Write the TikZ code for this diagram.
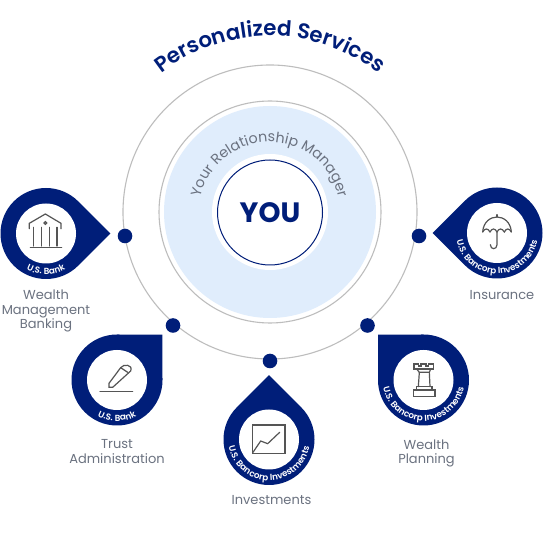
\documentclass[tikz,border=0pt]{standalone}
\usepackage{fontspec}
\setmainfont{Poppins}
\newfontfamily\semif{Poppins SemiBold}
\usetikzlibrary{decorations.text,calc}
\definecolor{navy}{HTML}{001E79}
\definecolor{ringgray}{HTML}{BDBDBD}
\definecolor{paleblue}{HTML}{E0EDFC}
\definecolor{labelgray}{HTML}{6B7280}
\definecolor{icongray}{HTML}{555555}
\tikzset{
  ring/.style={draw=ringgray,line width=1.1pt,fill=none},
  dotmark/.style={circle,fill=navy,draw=none,minimum size=14.6pt,inner sep=0pt},
  whitedisc/.style={circle,fill=white,draw=none,minimum size=60pt,inner sep=0pt},
  svc/.style={font=\fontsize{13}{14.6}\selectfont,text=labelgray,align=center,inner sep=0pt},
  icon/.style={draw=icongray,line width=1.2pt,line join=miter,line cap=round,fill=none},
  zoomframe/.style={shift={(#1)},x=0.33333pt,y=-0.33333pt},
}
% #1 centre x, #2 centre y, #3 corner angle, #4 name
\newcommand{\drop}[4]{%
  \fill[navy] (#1,#2) ++({#3-45}:45.5) arc[start angle={#3-45},delta angle=-270,radius=45.5] -- ($(#1,#2)+(#3:64.3)$) -- cycle;
  \node[whitedisc] (#4) at (#1,#2) {};
}
\newcommand{\arclabel}[4]{%
  \path[decorate,decoration={text along path,text align=center,
    text={|\semif\fontsize{#4}{#4}\selectfont\color{white}|#3}}]
    (#1,#2) ++(180:41) arc[start angle=180,end angle=360,radius=41];
}
\begin{document}
\begin{tikzpicture}[x=1pt,y=1pt]
\useasboundingbox (0,0) rectangle (544,544);
\fill[white] (0,0) rectangle (544,544);
\node[circle,ring,minimum size=294pt,inner sep=0pt] (outer) at (270,332) {};
\node[circle,ring,minimum size=222pt,inner sep=0pt] (middle) at (270,332) {};
\node[circle,fill=paleblue,minimum size=212pt,inner sep=0pt] (pale) at (270,332) {};
\node[circle,fill=white,minimum size=116pt,inner sep=0pt] (innerwhite) at (270,332) {};
\node[circle,draw=navy,line width=1pt,fill=white,minimum size=105pt,inner sep=0pt,font=\bfseries\fontsize{28}{28}\selectfont,text=navy] (you) at (270,331.5) {YOU};
\path[decorate,decoration={text along path,text align=center,
  text={|\semif\fontsize{21.3}{21.3}\selectfont\color{navy}|Personalized Services}}]
  (270,332) ++(130:176) arc[start angle=130,end angle=50,radius=176];
\path[decorate,decoration={text along path,text align=center,
  text={|\fontsize{14.3}{14.3}\selectfont\color{labelgray}|Your Relationship Manager}}]
  (270,331) ++(170:71) arc[start angle=170,end angle=10,radius=71];
\node[dotmark] (d1) at (125,308) {};
\node[dotmark] (d2) at (173,218.5) {};
\node[dotmark] (d3) at (270,183) {};
\node[dotmark] (d4) at (367.5,218.5) {};
\node[dotmark] (d5) at (419,308) {};
\drop{46}{310.5}{0}{bank}
\drop{117}{164}{45}{trust}
\drop{269}{104.5}{90}{inv}
\drop{423.5}{164}{135}{plan}
\drop{497}{311}{180}{ins}
\arclabel{46}{310.5}{U.S. Bank}{8.8}
\arclabel{117}{164}{U.S. Bank}{8.8}
\arclabel{269}{104.5}{U.S. Bancorp Investments}{8.8}
\arclabel{423.5}{164}{U.S. Bancorp Investments}{8.8}
\arclabel{497}{311}{U.S. Bancorp Investments}{8.8}
% bank icon
\begin{scope}[zoomframe={21,336}]
\draw[icon] (25,62) -- (25,46) -- (73,18) -- (120,46) -- (120,62);
\draw[icon] (73,45) circle (4);
\foreach \x in {38,62,86,108} \draw[icon] (\x,58) -- (\x,114);
\draw[icon] (28,118) -- (122,118);
\end{scope}
% pen icon
\begin{scope}[zoomframe={90,189}]
\draw[icon] (30,110) -- (128,110);
\draw[icon] (57,97) -- (57,85) -- (92,38) .. controls (100,26) and (130,28) .. (122,48) -- (68,97) -- cycle;
\draw[icon] (92,38) -- (113,52);
\end{scope}
% rook icon
\begin{scope}[zoomframe={400,189}]
\draw[icon] (42,27) -- (42,42) -- (100,42) -- (100,27) -- (85,27) -- (85,33) -- (78,33) -- (78,27) -- (63,27) -- (63,33) -- (56,33) -- (56,27) -- cycle;
\draw[icon] (50,42) -- (58,52) -- (88,52) -- (92,42);
\draw[icon] (58,52) -- (55,95);
\draw[icon] (88,52) -- (90,95);
\draw[icon] (50,95) rectangle (96,105);
\draw[icon] (40,105) rectangle (105,125);
\end{scope}
% umbrella icon
\begin{scope}[zoomframe={472,336}]
\draw[icon] (75,20) -- (75,27);
\draw[icon] (32,72) .. controls (34,42) and (55,27) .. (75,27) .. controls (95,27) and (116,42) .. (118,72);
\draw[icon] (32,72) .. controls (38,60) and (48,60) .. (54,72) .. controls (60,60) and (69,60) .. (75,72) .. controls (81,60) and (90,60) .. (97,72) .. controls (103,60) and (112,60) .. (118,72);
\draw[icon] (75,72) -- (75,110) .. controls (75,126) and (55,126) .. (55,110);
\end{scope}
% chart icon
\begin{scope}[zoomframe={245,129}]
\draw[icon] (22,30) rectangle (120,115);
\draw[icon] (24,112) -- (47,78) -- (68,86) -- (104,52);
\end{scope}
\node[svc] (lbank) at (46,233) {Wealth\\Management\\Banking};
\node[svc] (ltrust) at (117,92.5) {Trust\\Administration};
\node[svc] (linv) at (271.5,44) {Investments};
\node[svc] (lins) at (502,249) {Insurance};
\node[svc] (lplan) at (426.5,90.5) {Wealth\\Planning};
\end{tikzpicture}
\end{document}
